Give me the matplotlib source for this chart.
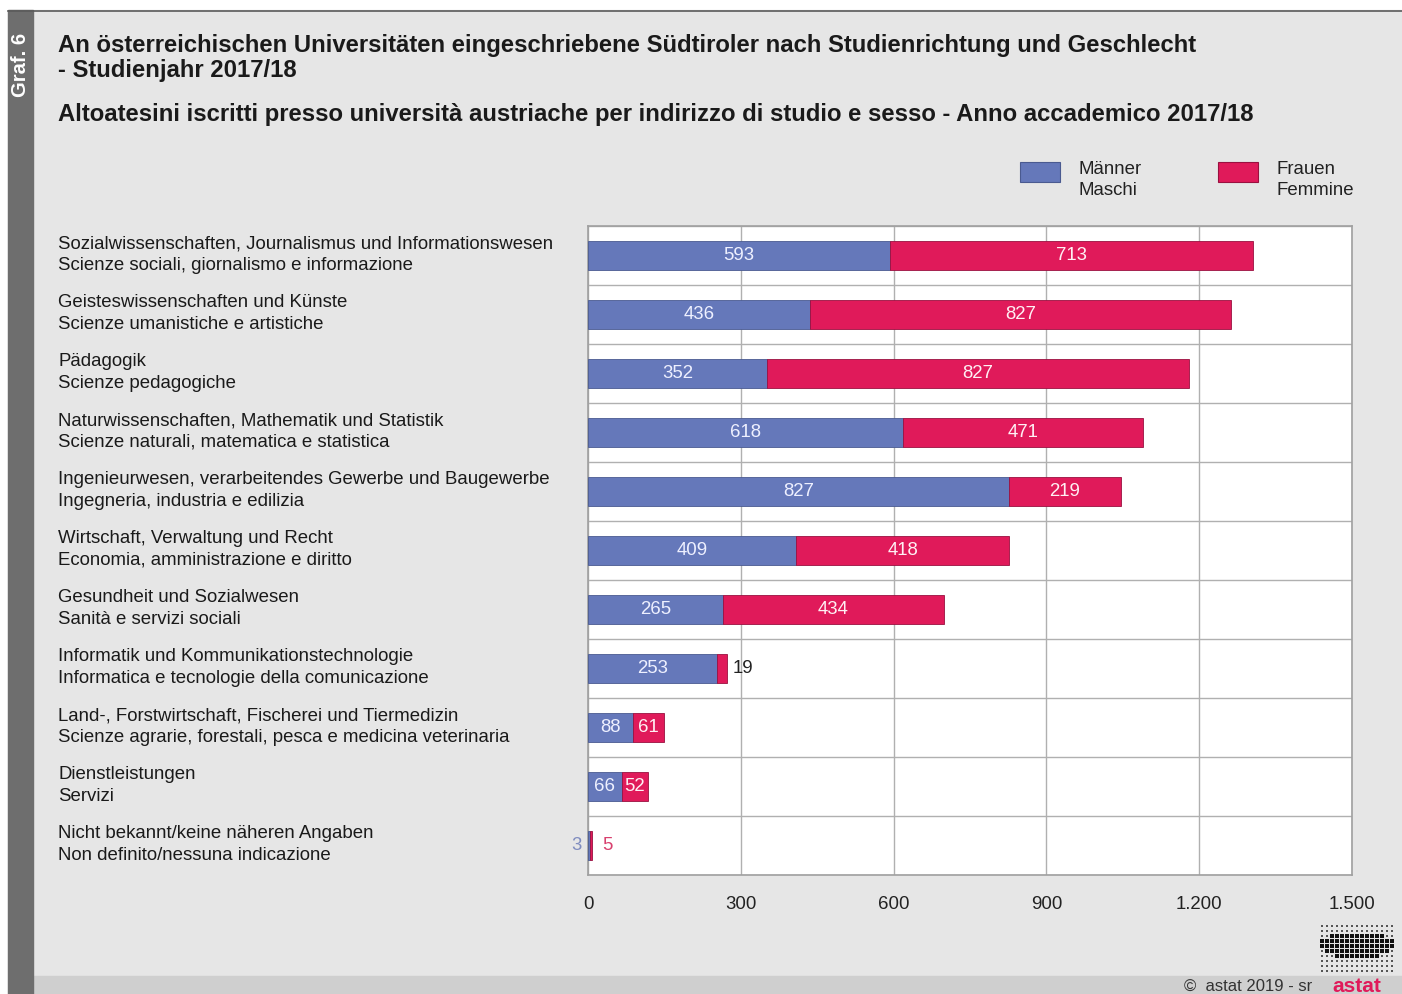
import matplotlib.pyplot as plt
import numpy as np
from matplotlib.patches import Rectangle

plt.rcParams['font.family'] = ['Liberation Sans', 'DejaVu Sans']

title_de = "An österreichischen Universitäten eingeschriebene Südtiroler nach Studienrichtung und Geschlecht\n- Studienjahr 2017/18"
title_it = "Altoatesini iscritti presso università austriache per indirizzo di studio e sesso - Anno accademico 2017/18"

categories = [
    "Sozialwissenschaften, Journalismus und Informationswesen\nScienze sociali, giornalismo e informazione",
    "Geisteswissenschaften und Künste\nScienze umanistiche e artistiche",
    "Pädagogik\nScienze pedagogiche",
    "Naturwissenschaften, Mathematik und Statistik\nScienze naturali, matematica e statistica",
    "Ingenieurwesen, verarbeitendes Gewerbe und Baugewerbe\nIngegneria, industria e edilizia",
    "Wirtschaft, Verwaltung und Recht\nEconomia, amministrazione e diritto",
    "Gesundheit und Sozialwesen\nSanità e servizi sociali",
    "Informatik und Kommunikationstechnologie\nInformatica e tecnologie della comunicazione",
    "Land-, Forstwirtschaft, Fischerei und Tiermedizin\nScienze agrarie, forestali, pesca e medicina veterinaria",
    "Dienstleistungen\nServizi",
    "Nicht bekannt/keine näheren Angaben\nNon definito/nessuna indicazione",
]
men = [593, 436, 352, 618, 827, 409, 265, 253, 88, 66, 3]
women = [713, 827, 827, 471, 219, 418, 434, 19, 61, 52, 5]
xticks = [0, 300, 600, 900, 1200, 1500]
xtick_labels = ["0", "300", "600", "900", "1.200", "1.500"]

BLUE = "#6578ba"
RED = "#e01a5a"
BG = "#e6e6e6"
FS = 13.4

W, H = 1402, 994
fig = plt.figure(figsize=(W / 100, H / 100), dpi=100)
fig.patch.set_facecolor("white")


def px(x, y):
    return x / W, 1 - y / H


# background panels, in pixel coords
bg = fig.add_axes([0, 0, 1, 1], zorder=-10)
bg.set_xlim(0, W)
bg.set_ylim(H, 0)
bg.axis("off")
bg.add_patch(Rectangle((8, 10), W - 8, H - 10, color=BG))
bg.add_patch(Rectangle((33, 976), W - 33, 20, color="#cfcfcf"))
bg.add_patch(Rectangle((8, 10), 25, H - 10, color="#6e6e6e"))
bg.plot([8, W], [10.5, 10.5], color="#5a5a5a", lw=1.2)
bg.text(20, 65, "Graf. 6", rotation=90, color="white", fontsize=14.5,
        fontweight="bold", ha="center", va="center")

# titles
fig.text(*px(58, 58), title_de, fontsize=17.2, fontweight="bold",
         ha="left", va="center", color="#1a1a1a", linespacing=1.15)
fig.text(*px(58, 114), title_it, fontsize=17.2, fontweight="bold",
         ha="left", va="center", color="#1a1a1a")

# main axes
ax = fig.add_axes([588 / W, 1 - 875 / H, (1352 - 588) / W, (875 - 226) / H])
ax.set_facecolor("white")
n = len(categories)
y = np.arange(n)
ax.barh(y, men, height=0.5, color=BLUE, edgecolor="#4a5a90", lw=0.6, zorder=3)
ax.barh(y, women, left=men, height=0.5, color=RED, edgecolor="#9a1040", lw=0.6, zorder=3)
ax.set_xlim(0, 1500)
ax.set_ylim(n - 0.5, -0.5)
ax.set_yticks(np.arange(n + 1) - 0.5, minor=True)
ax.set_yticks([])
ax.set_xticks(xticks)
ax.set_xticklabels(xtick_labels, fontsize=FS, color="#222222")
ax.tick_params(axis="x", length=0, pad=15)
ax.grid(axis="x", color="#b0b0b0", lw=1, zorder=0)
ax.grid(axis="y", which="minor", color="#b0b0b0", lw=1, zorder=0)
ax.tick_params(axis="y", which="minor", length=0)
for s in ax.spines.values():
    s.set_color("#a0a0a0")
    s.set_linewidth(1.2)

for i in range(n):
    m, w = men[i], women[i]
    if m >= 50:
        ax.text(m / 2, i, str(m), color="#eef0ff", fontsize=FS,
                ha="center", va="center", zorder=4)
    else:
        ax.text(-12, i, str(m), color="#7f8cbf", fontsize=FS,
                ha="right", va="center", zorder=4)
    if w >= 50:
        ax.text(m + w / 2, i, str(w), color="#fff0f4", fontsize=FS,
                ha="center", va="center", zorder=4)
    elif m >= 50:
        ax.text(m + w + 12, i, str(w), color="#222222", fontsize=FS,
                ha="left", va="center", zorder=4)
    else:
        ax.text(m + w + 20, i, str(w), color="#d8406e", fontsize=FS,
                ha="left", va="center", zorder=4)

# category labels
for i, lab in enumerate(categories):
    yy = 226 + (i + 0.5) * 59
    fig.text(*px(58, yy - 1), lab, fontsize=FS, ha="left", va="center",
             color="#1a1a1a", linespacing=1.38)

# legend
bg.add_patch(Rectangle((1020, 162), 40, 20, color=BLUE, ec="#4a5a90", lw=0.8))
bg.add_patch(Rectangle((1218, 162), 40, 20, color=RED, ec="#9a1040", lw=0.8))
bg.text(1078, 180, "Männer\nMaschi", fontsize=FS, ha="left", va="center",
        color="#222222", linespacing=1.3)
bg.text(1276, 180, "Frauen\nFemmine", fontsize=FS, ha="left", va="center",
        color="#222222", linespacing=1.3)

# footer
bg.text(1312, 986, "©  astat 2019 - sr", fontsize=12, ha="right", va="center",
        color="#333333")
bg.text(1357, 986, "astat", fontsize=15, fontweight="bold", ha="center",
        va="center", color="#e01a5a")
gx, gy = np.meshgrid(np.arange(1322, 1396, 5), np.arange(926, 974, 5))
gx, gy = gx.ravel(), gy.ravel()
core = ((gx - 1357) / 38) ** 2 + ((gy - 945) / 14) ** 2 < 1
bg.scatter(gx[~core], gy[~core], s=2.5, color="#555555", marker="s", lw=0)
bg.scatter(gx[core], gy[core], s=12, color="#111111", marker="s", lw=0)

fig.savefig("out.png", dpi=100, facecolor=fig.get_facecolor())
